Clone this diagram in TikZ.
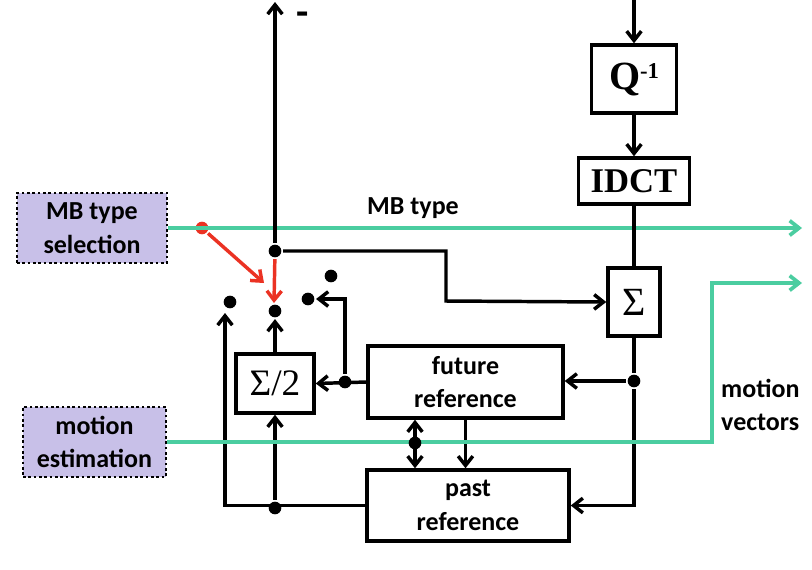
\documentclass[tikz,border=0pt]{standalone}
\usepackage{fontspec}
\setmainfont{Carlito}
\newfontfamily\blockfont{Liberation Serif}
\usetikzlibrary{arrows.meta,positioning}
\definecolor{lav}{RGB}{200,192,232}
\definecolor{mint}{RGB}{75,205,160}
\definecolor{signalred}{RGB}{235,50,35}

\begin{document}
\begin{tikzpicture}[x=0.75pt,y=-0.75pt,->,>={Straight Barb[length=7pt,width=11pt]},line width=2.6pt,
    block/.style={draw,rectangle,inner sep=0pt,font=\blockfont\fontsize{30}{30}\selectfont},
    refbox/.style={draw,rectangle,inner sep=0pt,align=center,font=\bfseries\fontsize{19.5}{25}\selectfont},
    ctrlbox/.style={draw,rectangle,fill=lav,line width=2pt,dash pattern=on 2pt off 2pt,
      minimum height=52.5pt,inner sep=0pt,align=center,font=\bfseries\fontsize{19.5}{25}\selectfont},
    lbl/.style={font=\bfseries\fontsize{19.5}{25}\selectfont,align=left},
    dot/.style={circle,fill,inner sep=0pt,minimum size=9.5pt},
    sig/.style={draw=mint,line width=2.8pt},
    sel/.style={draw=signalred,line width=2.6pt}]
  \useasboundingbox (0,0) rectangle (812,569);

  % decoder blocks
  \node[block,minimum width=63.75pt,minimum height=51pt,font=\blockfont\bfseries\fontsize{30}{30}\selectfont] (q) at (634,79)
    {Q\raisebox{0.55ex}{\fontsize{17}{17}\selectfont -1}};
  \node[block,minimum width=83.25pt,minimum height=34.5pt,font=\blockfont\bfseries\fontsize{26}{26}\selectfont] (idct) at (634,181) {IDCT};
  \node[block,minimum width=39pt,minimum height=51pt] (sum) at (634,302) {Σ};
  \node[block,minimum width=58.5pt,minimum height=44.25pt,font=\blockfont\fontsize{28}{28}\selectfont] (half) at (275,383.5) {Σ/2};
  \node[refbox,minimum width=146.25pt,minimum height=54pt] (future) at (465.5,382) {future\\reference};
  \node[refbox,minimum width=151.5pt,minimum height=53.25pt] (past) at (468,505.5) {past\\reference};

  % control blocks
  \node[ctrlbox,minimum width=112.5pt] (mbsel) at (92,228) {MB type\\selection};
  \node[ctrlbox,minimum width=107.25pt] (motest) at (94.5,442) {motion\\estimation};

  % junctions and switch contacts
  \node[dot] (jnc) at (275,251) {};
  \node[dot] (cL) at (230,302) {};
  \node[dot] (cM) at (275,311) {};
  \node[dot] (cR) at (308,299) {};
  \node[dot] (cT) at (331,276) {};
  \node[dot] (jF) at (345,382) {};
  \node[dot] (jR) at (634,381) {};
  \node[dot] (jB) at (275,508) {};
  \node[dot,signalred] (rdot) at (202,228) {};

  \coordinate (inTop) at (634,0);
  \coordinate (outTop) at (275,2);
  \coordinate (turn) at (446,301);
  \coordinate (lTip) at (225,313);
  \coordinate (rTip) at (264,283);
  \coordinate (mTip) at (274,303);
  \coordinate (mbEnd) at (802,228);
  \coordinate (mvTurn) at (712,442);
  \coordinate (mvEnd) at (802,283);

  % green signals
  \draw[sig] (mbsel.east) -- (mbEnd);
  \node[lbl] (mblbl) at (413,208) {MB type};

  % main path
  \draw (jnc) -- (outTop);
  \node[lbl,inner sep=0pt,font=\bfseries\fontsize{30}{30}\selectfont] (minus) at (303,19) {-};
  \draw (inTop) -- (q);
  \draw (q) -- (idct);
  \draw[-] (idct) -- (sum);
  \draw[-] (sum) -- (jR);
  \draw (jR) -- (jR -| future.east);
  \draw (jR) |- (past.east);
  \draw (jnc) -| (turn) -- (sum.west);

  % prediction paths
  \draw (future.west) -- (half.east);
  \draw (jF) |- (cR);
  \draw (half) -- (cM);
  \draw (past.west) -| (lTip);
  \draw (jB) -- (half.south);
  \draw[<->] (future.south -| 415,0) -- (past.north -| 415,0);
  \draw (future.south) -- (future.south |- past.north);

  % mode selection
  \draw[sel] (rdot) -- (rTip);
  \draw[sel] (jnc) -- (mTip);

  % motion vectors
  \draw[sig] (motest.east) -- (mvTurn) |- (mvEnd);
  \node[dot] (jM) at (415,443) {};
  \node[lbl,anchor=west] (mvlbl) at (715,405) {motion\\vectors};
\end{tikzpicture}
\end{document}
